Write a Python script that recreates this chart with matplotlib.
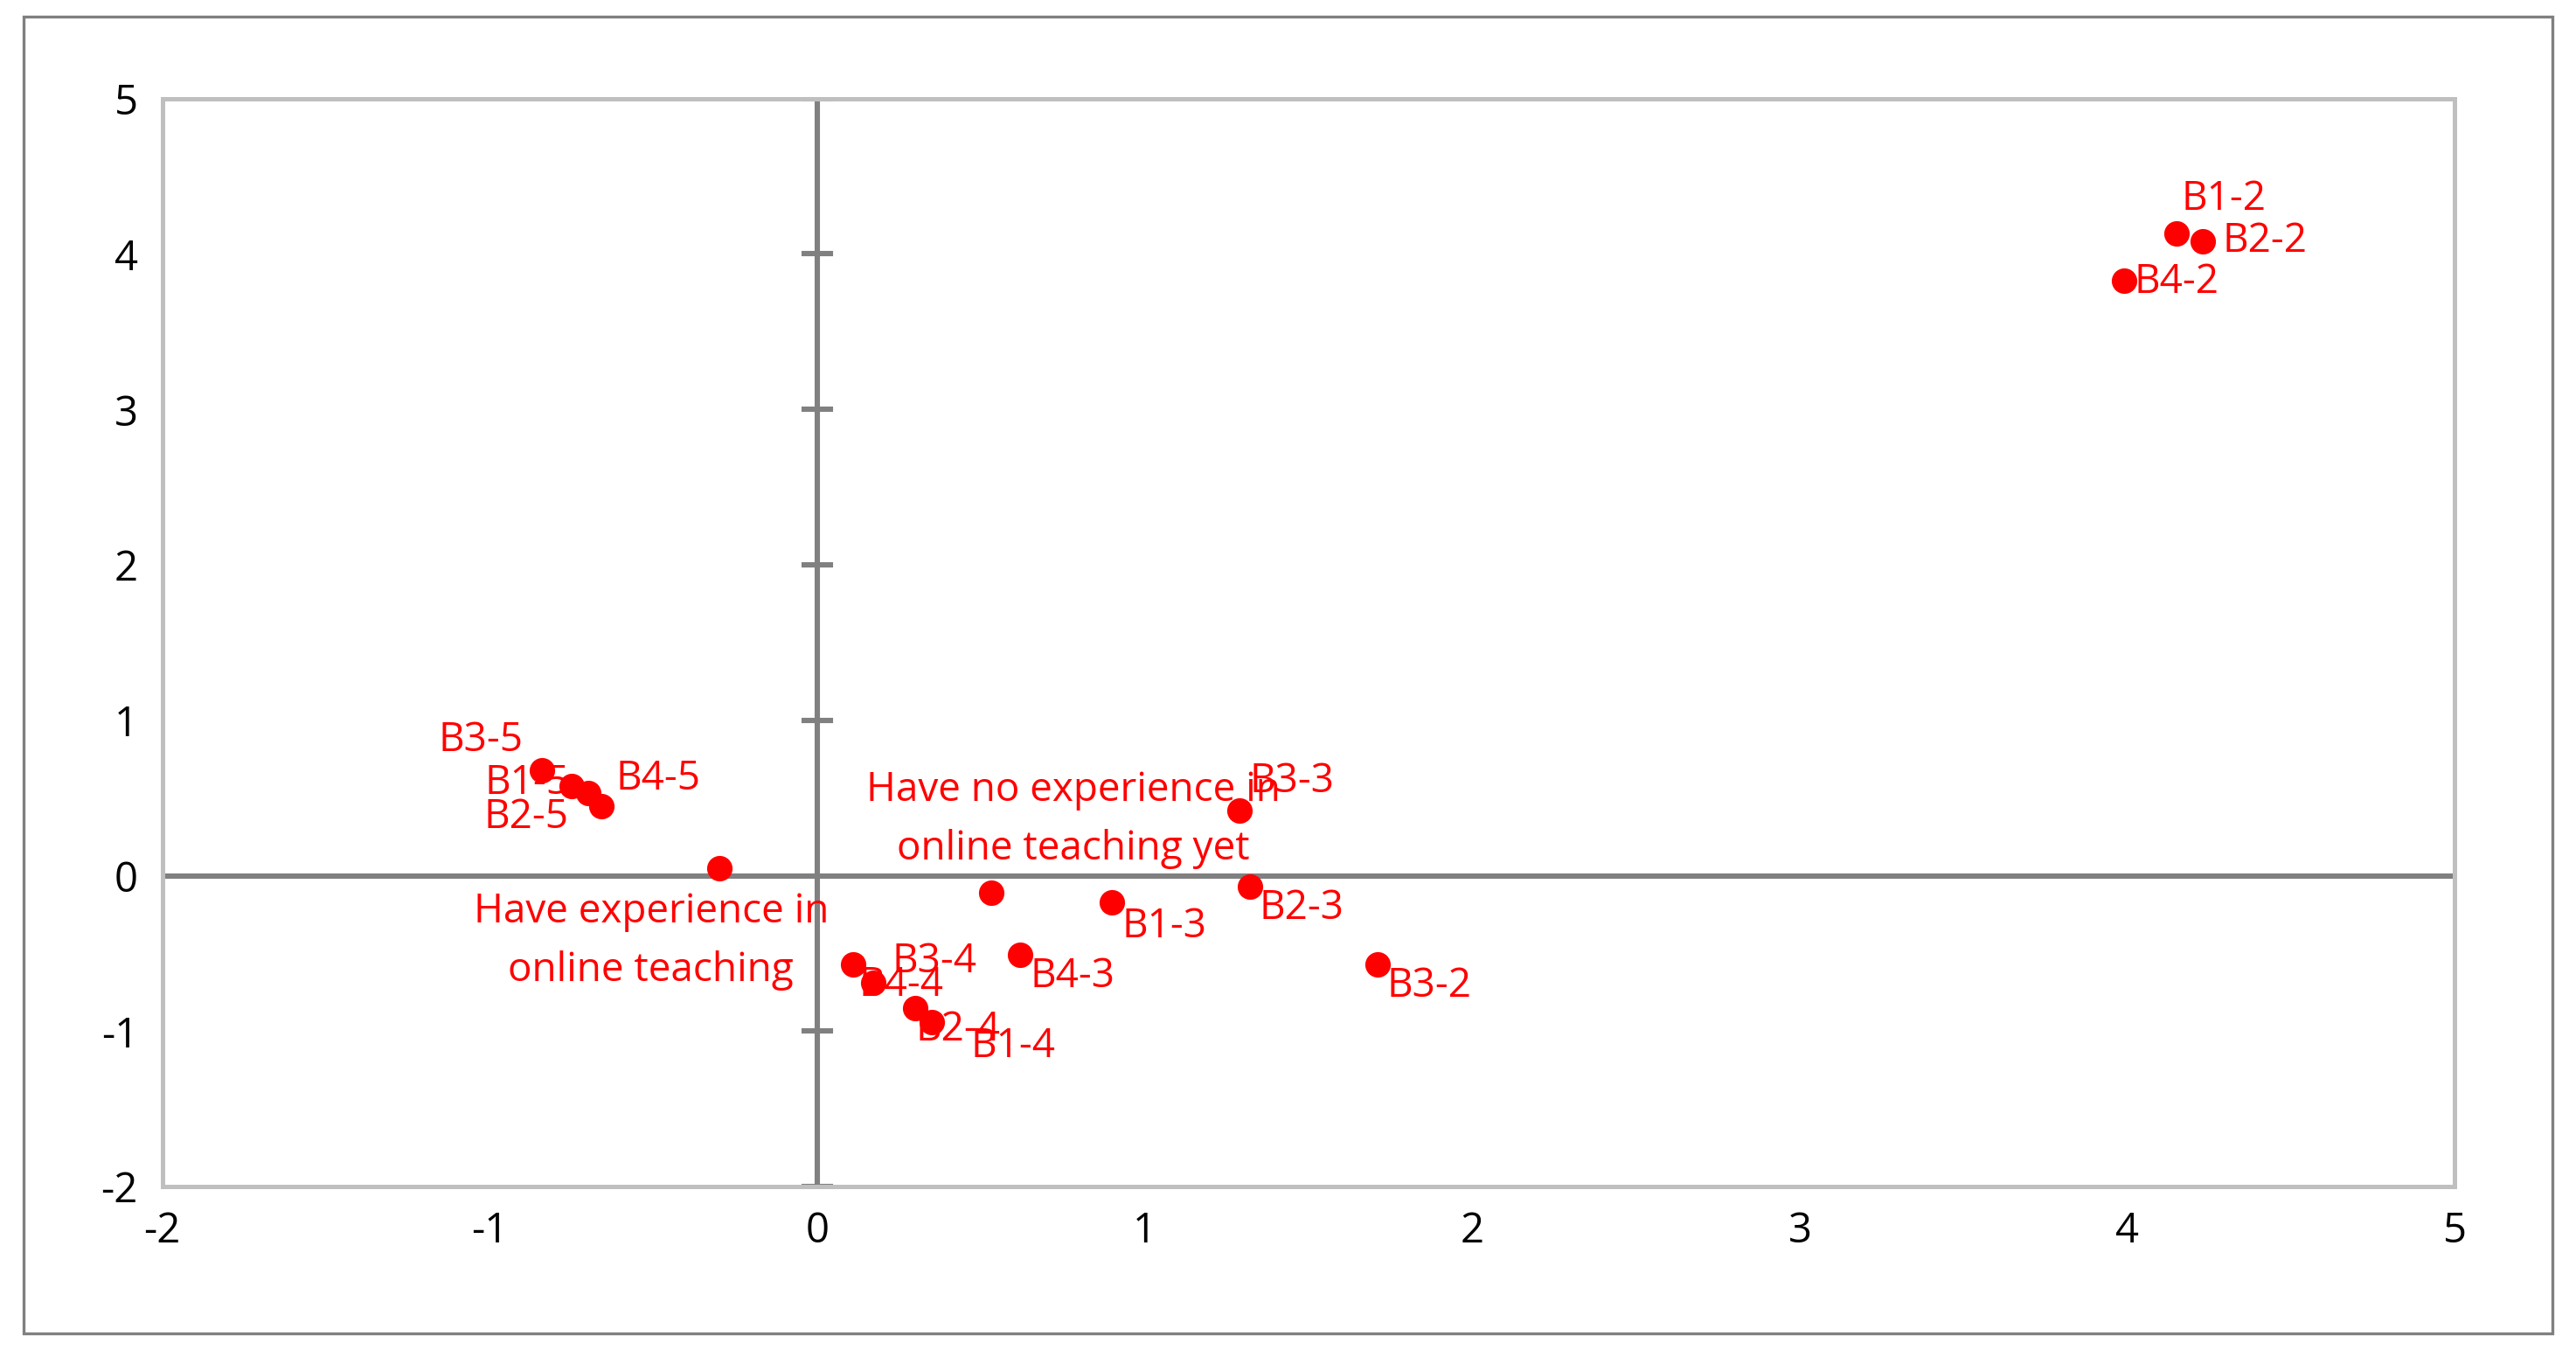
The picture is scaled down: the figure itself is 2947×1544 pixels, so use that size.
import matplotlib
matplotlib.use("Agg")
import matplotlib.pyplot as plt
from matplotlib.patches import Rectangle

labels = ["B1-2","B2-2","B4-2","B3-2","B3-5","B1-5","B2-5","B4-5",
          "Have experience in\nonline teaching","Have no experience in\nonline teaching yet",
          "B3-3","B1-3","B2-3","B4-3","B3-4","B4-4","B2-4","B1-4"]
xs = [4.15,4.23,3.99,1.71,-0.84,-0.75,-0.70,-0.66,-0.30,0.53,1.29,0.90,1.32,0.62,0.11,0.17,0.30,0.35]
ys = [4.13,4.08,3.83,-0.57,0.68,0.58,0.53,0.45,0.05,-0.11,0.42,-0.17,-0.07,-0.51,-0.57,-0.69,-0.85,-0.94]
offs = [(2,14,'left'),(8,0,'left'),(4,-1,'left'),(4,-9,'left'),(-8,12,'right'),(-1,1,'right'),(-8,-10,'right'),(6,11,'left'),
        (-28,-30,'center'),(34,30,'center'),(4,12,'left'),(4,-10,'left'),(4,-9,'left'),(4,-9,'left'),(16,1,'left'),(-6,-1,'left'),(0,-9,'left'),(16,-10,'left')]

plt.rcParams['font.family'] = ['Open Sans','DejaVu Sans']
plt.rcParams['axes.unicode_minus'] = False
fig = plt.figure(figsize=(14.735,7.72), dpi=200)
fig.patches.append(Rectangle((0.009,0.012),0.982,0.976,transform=fig.transFigure,fill=False,ec='#808080',lw=1.2))
ax = fig.add_axes([0.063,0.121,0.890,0.806])
ax.set_xlim(-2,5); ax.set_ylim(-2,5)
for s in ax.spines.values():
    s.set_color('#BFBFBF'); s.set_linewidth(1.8)
ax.axhline(0,color='#808080',lw=2.2,zorder=1)
ax.axvline(0,color='#808080',lw=2.2,zorder=1)
for t in range(-2,6):
    if t!=0:
        ax.plot([-0.04,0.04],[t,t],color='#808080',lw=2.2,zorder=1)
ax.tick_params(length=0,labelsize=17,pad=10)
ax.set_xticks(range(-2,6)); ax.set_yticks(range(-2,6))
ax.scatter(xs,ys,s=90,color='#FF0000',zorder=3)
for l,x,y,(dx,dy,ha) in zip(labels,xs,ys,offs):
    ax.annotate(l,(x,y),xytext=(dx,dy),textcoords='offset points',ha=ha,va='center',
                color='#FF0000',fontsize=16.5,linespacing=1.6,zorder=4)
fig.savefig('out.png',dpi=200)
